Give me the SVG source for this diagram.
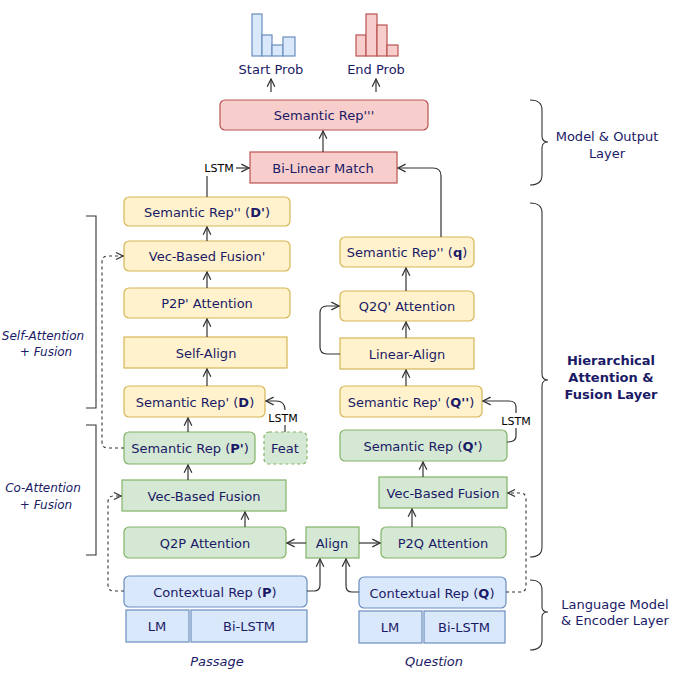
<svg xmlns="http://www.w3.org/2000/svg" width="675" height="684" viewBox="0 0 675 684">
<style>
text{font-family:Verdana,"DejaVu Sans",sans-serif;font-size:13px;fill:#1a1a66;text-anchor:middle;dominant-baseline:central}
.b{fill:#dae8fc;stroke:#6c8ebf;stroke-width:1.2}
.g{fill:#d5e8d4;stroke:#82b366;stroke-width:1.2}
.y{fill:#fff2cc;stroke:#d6b656;stroke-width:1.2}
.r{fill:#f8cecc;stroke:#b85450;stroke-width:1.2}
.c{fill:none;stroke:#333;stroke-width:1.2}
.d{fill:none;stroke:#333;stroke-width:1.1;stroke-dasharray:3 3}
.k{fill:#000;font-size:11px}
.s{font-size:12px;font-style:italic}
</style>
<defs><marker id="a" viewBox="0 0 10 10" refX="9" refY="5" markerWidth="8" markerHeight="8" orient="auto"><path d="M1,1 L9,5 L1,9" fill="none" stroke="#333" stroke-width="1.3"/></marker></defs>
<g id="startprob"><rect class="b" x="252" y="14" width="10" height="42"/><rect class="b" x="262" y="35" width="10" height="21"/><rect class="b" x="272" y="45" width="11" height="11"/><rect class="b" x="283" y="37" width="12" height="19"/><text x="271" y="69">Start Prob</text></g>
<g id="endprob"><rect class="r" x="356" y="35" width="10" height="21"/><rect class="r" x="366" y="14" width="11" height="42"/><rect class="r" x="377" y="25" width="10" height="31"/><rect class="r" x="387" y="45" width="11" height="11"/><text x="376" y="69">End Prob</text></g>
<g id="semrep3"><rect class="r" x="220" y="100" width="208" height="30" rx="5"/><text x="324" y="115">Semantic Rep'''</text></g>
<g id="bilinear"><rect class="r" x="250" y="152" width="147" height="31"/><text x="323" y="168">Bi-Linear Match</text></g>
<g id="semrepD2"><rect class="y" x="124" y="197" width="166" height="29" rx="5"/><text x="207" y="212">Semantic Rep'' (<tspan font-weight="bold">D'</tspan>)</text></g>
<g id="vecfusion2"><rect class="y" x="124" y="241" width="166" height="30" rx="5"/><text x="207" y="256">Vec-Based Fusion'</text></g>
<g id="p2p"><rect class="y" x="124" y="288" width="166" height="30" rx="5"/><text x="207" y="303">P2P' Attention</text></g>
<g id="selfalign"><rect class="y" x="124" y="337" width="163" height="31"/><text x="206" y="353">Self-Align</text></g>
<g id="semrepD"><rect class="y" x="124" y="386" width="141" height="31" rx="5"/><text x="195" y="402">Semantic Rep' (<tspan font-weight="bold">D</tspan>)</text></g>
<g id="semrepP1"><rect class="g" x="124" y="432" width="131" height="32" rx="5"/><text x="190" y="448">Semantic Rep (<tspan font-weight="bold">P'</tspan>)</text></g>
<g id="feat"><rect class="g" x="264" y="432" width="43" height="32" rx="5" stroke-dasharray="3 3"/><text x="285" y="448">Feat</text></g>
<g id="vecfusionP"><rect class="g" x="122" y="480" width="164" height="31"/><text x="204" y="496">Vec-Based Fusion</text></g>
<g id="q2p"><rect class="g" x="124" y="527" width="162" height="31" rx="5"/><text x="205" y="543">Q2P Attention</text></g>
<g id="align"><rect class="g" x="306" y="527" width="53" height="31"/><text x="332" y="543">Align</text></g>
<g id="p2q"><rect class="g" x="381" y="527" width="125" height="31" rx="5"/><text x="443" y="543">P2Q Attention</text></g>
<g id="vecfusionQ"><rect class="g" x="379" y="477" width="128" height="31"/><text x="443" y="493">Vec-Based Fusion</text></g>
<g id="semrepQ1"><rect class="g" x="340" y="430" width="167" height="31" rx="5"/><text x="423" y="446">Semantic Rep (<tspan font-weight="bold">Q'</tspan>)</text></g>
<g id="semrepQ2"><rect class="y" x="340" y="386" width="142" height="31" rx="5"/><text x="411" y="402">Semantic Rep' (<tspan font-weight="bold">Q''</tspan>)</text></g>
<g id="linearalign"><rect class="y" x="340" y="338" width="134" height="31"/><text x="407" y="354">Linear-Align</text></g>
<g id="q2q"><rect class="y" x="340" y="291" width="134" height="30" rx="5"/><text x="407" y="306">Q2Q' Attention</text></g>
<g id="semrepq"><rect class="y" x="340" y="237" width="134" height="30" rx="5"/><text x="407" y="252">Semantic Rep'' (<tspan font-weight="bold">q</tspan>)</text></g>
<g id="ctxP"><rect class="b" x="124" y="576" width="183" height="31" rx="5"/><text x="215" y="592">Contextual Rep (<tspan font-weight="bold">P</tspan>)</text></g>
<g id="lmP"><rect class="b" x="126" y="610" width="63" height="32"/><text x="157" y="626">LM</text></g>
<g id="bilstmP"><rect class="b" x="191" y="610" width="116" height="32"/><text x="249" y="626">Bi-LSTM</text></g>
<g id="ctxQ"><rect class="b" x="359" y="577" width="147" height="31" rx="5"/><text x="432" y="593">Contextual Rep (<tspan font-weight="bold">Q</tspan>)</text></g>
<g id="lmQ"><rect class="b" x="359" y="611" width="63" height="32"/><text x="390" y="627">LM</text></g>
<g id="bilstmQ"><rect class="b" x="424" y="611" width="81" height="32"/><text x="464" y="627">Bi-LSTM</text></g>
<g id="labels">
<text x="217" y="661" font-style="italic">Passage</text><text x="434" y="661" font-style="italic">Question</text>
<text class="s" x="43" y="336">Self-Attention</text><text class="s" x="46" y="352">+ Fusion</text>
<text class="s" x="43" y="488">Co-Attention</text><text class="s" x="46" y="505">+ Fusion</text>
<text x="607" y="136">Model &amp; Output</text><text x="607" y="153">Layer</text>
<text x="611" y="360" font-weight="bold">Hierarchical</text><text x="611" y="377" font-weight="bold">Attention &amp;</text><text x="611" y="394" font-weight="bold">Fusion Layer</text>
<text x="615" y="604">Language Model</text><text x="615" y="620">&amp; Encoder Layer</text>
</g>
<g id="brackets" fill="none" stroke="#333" stroke-width="1.1">
<path d="M86,216 H96 V408 H86"/>
<path d="M86,425 H96 V555 H86"/>
<path d="M530,100 Q542,100 542,110 V136 Q542,142 548,142 Q542,142 542,148 V175 Q542,185 530,185"/>
<path d="M530,203 Q542,203 542,213 V374 Q542,380 548,380 Q542,380 542,386 V547 Q542,557 530,557"/>
<path d="M530,580 Q542,580 542,590 V607 Q542,612 548,612 Q542,612 542,617 V640 Q542,650 530,650"/>
</g>
<g id="connectors">
<path class="c" d="M271,92 V79" marker-end="url(#a)"/>
<path class="c" d="M376,92 V79" marker-end="url(#a)"/>
<path class="c" d="M323,152 V131" marker-end="url(#a)"/>
<path class="c" d="M207,197 V176"/>
<text class="k" x="219" y="168">LSTM</text>
<path class="c" d="M236,168 H249" marker-end="url(#a)"/>
<path class="c" d="M441,237 V176 Q441,168 433,168 H398" marker-end="url(#a)"/>
<path class="c" d="M207,241 V227" marker-end="url(#a)"/>
<path class="c" d="M207,288 V272" marker-end="url(#a)"/>
<path class="c" d="M207,337 V319" marker-end="url(#a)"/>
<path class="c" d="M207,386 V369" marker-end="url(#a)"/>
<path class="c" d="M188,432 V418" marker-end="url(#a)"/>
<path class="c" d="M188,480 V465" marker-end="url(#a)"/>
<path class="c" d="M245,527 V512" marker-end="url(#a)"/>
<path class="c" d="M412,527 V509" marker-end="url(#a)"/>
<path class="c" d="M423,477 V462" marker-end="url(#a)"/>
<path class="c" d="M406,386 V370" marker-end="url(#a)"/>
<path class="c" d="M406,338 V322" marker-end="url(#a)"/>
<path class="c" d="M406,291 V268" marker-end="url(#a)"/>
<path class="c" d="M340,354 H327 Q320,354 320,347 V313 Q320,306 327,306 H339" marker-end="url(#a)"/>
<path class="c" d="M306,543 H287" marker-end="url(#a)"/>
<path class="c" d="M359,543 H380" marker-end="url(#a)"/>
<path class="c" d="M307,591 H314 Q320,591 320,585 V559" marker-end="url(#a)"/>
<path class="c" d="M359,592 H352 Q346,592 346,586 V559" marker-end="url(#a)"/>
<path class="c" d="M285,432 V425"/>
<text class="k" x="283" y="418">LSTM</text>
<path class="c" d="M285,410 Q285,401 276,401 H266" marker-end="url(#a)"/>
<path class="c" d="M507,442 Q516,442 516,436 V428"/>
<text class="k" x="516" y="421">LSTM</text>
<path class="c" d="M516,413 V407 Q516,401 509,401 H483" marker-end="url(#a)"/>
<path class="d" d="M124,448 H108 Q102,448 102,442 V262 Q102,256 108,256 H123" marker-end="url(#a)"/>
<path class="d" d="M124,591 H114 Q108,591 108,585 V502 Q108,496 114,496 H121" marker-end="url(#a)"/>
<path class="d" d="M506,592 H520 Q526,592 526,586 V499 Q526,493 520,493 H508" marker-end="url(#a)"/>
</g>
</svg>
